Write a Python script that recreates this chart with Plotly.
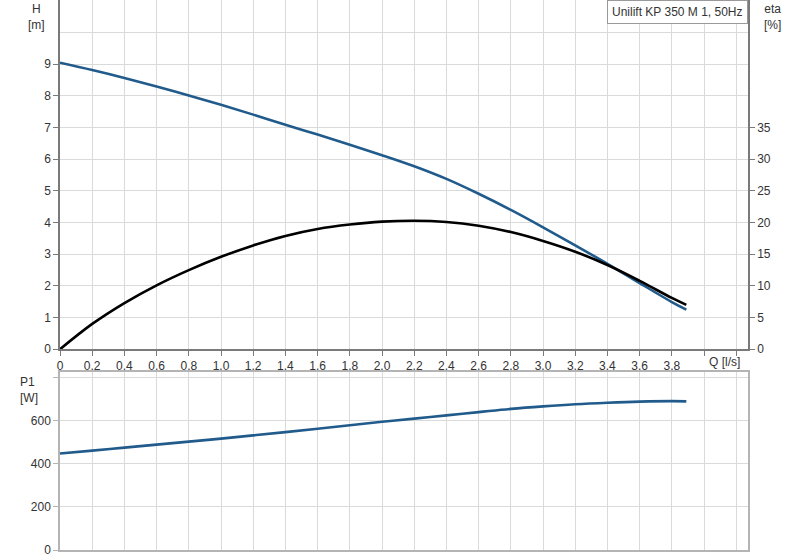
import plotly.graph_objects as go

# Kennlinien Unilift KP 350 M 1, 50Hz
q = [0, 0.2, 0.4, 0.6, 0.8, 1.0, 1.2, 1.4, 1.6, 1.8, 2.0,
     2.2, 2.4, 2.6, 2.8, 3.0, 3.2, 3.4, 3.6, 3.8, 3.89]
h = [9.05, 8.82, 8.57, 8.30, 8.01, 7.72, 7.41, 7.09, 6.78, 6.46, 6.13,
     5.78, 5.38, 4.91, 4.40, 3.85, 3.28, 2.70, 2.09, 1.49, 1.25]
eta = [0, 4.0, 7.3, 10.1, 12.5, 14.6, 16.4, 17.9, 19.0, 19.7, 20.15,
       20.3, 20.1, 19.5, 18.5, 17.1, 15.4, 13.3, 10.8, 8.1, 7.0]
p1 = [449, 462, 476, 490, 504, 518, 533, 548, 564, 580, 596,
      611, 626, 641, 656, 668, 678, 685, 690, 692, 691]

q_ticks = [0, 0.2, 0.4, 0.6, 0.8, 1.0, 1.2, 1.4, 1.6, 1.8, 2.0,
           2.2, 2.4, 2.6, 2.8, 3.0, 3.2, 3.4, 3.6, 3.8, 4.0, 4.2]
q_labels = ["0", "0,2", "0,4", "0,6", "0,8", "1,0", "1,2", "1,4", "1,6", "1,8", "2,0",
            "2,2", "2,4", "2,6", "2,8", "3,0", "3,2", "3,4", "3,6", "3,8", "", ""]
h_ticks = [0, 1, 2, 3, 4, 5, 6, 7, 8, 9]
eta_ticks = [0, 5, 10, 15, 20, 25, 30, 35]
p1_ticks = [0, 200, 400, 600, 800]
p1_labels = ["0", "200", "400", "600", ""]

BLUE = "#215b8c"
GRID = "#dadada"
AXIS = "#7a7a7a"
FRAME = "#b4b4b4"
TXT = "#333333"
FONT = "Liberation Sans, Arial, sans-serif"

h_top = 11.03
fig = go.Figure()

fig.add_trace(go.Scatter(x=q, y=h, mode="lines", line=dict(color=BLUE, width=2.6, shape="spline"),
                         xaxis="x", yaxis="y", showlegend=False))
fig.add_trace(go.Scatter(x=q, y=eta, mode="lines", line=dict(color="#000000", width=2.6, shape="spline"),
                         xaxis="x", yaxis="y2", showlegend=False))
fig.add_trace(go.Scatter(x=q, y=p1, mode="lines", line=dict(color=BLUE, width=2.6, shape="spline"),
                         xaxis="x2", yaxis="y3", showlegend=False))

fig.update_layout(
    width=800, height=560,
    margin=dict(l=60, r=52, t=0, b=10),
    paper_bgcolor="white", plot_bgcolor="white",
    font=dict(family=FONT, size=12, color=TXT),
    xaxis=dict(domain=[0, 1], anchor="y", range=[0, 4.273], tickmode="array",
               tickvals=q_ticks, ticktext=q_labels, ticks="outside", ticklen=5,
               tickcolor=AXIS, showgrid=True, gridcolor=GRID, gridwidth=1,
               showline=True, linecolor=AXIS, linewidth=1.5, zeroline=False),
    yaxis=dict(domain=[0.365, 1], anchor="x", range=[0, h_top], tickmode="array",
               tickvals=h_ticks, ticks="outside", ticklen=5, tickcolor=AXIS,
               showgrid=True, gridcolor=GRID, gridwidth=1,
               minor=dict(tickvals=[10], showgrid=True, gridcolor=GRID, ticks=""),
               showline=True, linecolor=AXIS, linewidth=1.5, zeroline=False),
    yaxis2=dict(overlaying="y", side="right", anchor="x", range=[0, h_top * 5],
                tickmode="array", tickvals=eta_ticks, ticks="outside", ticklen=5,
                tickcolor=AXIS, showgrid=False, showline=True, linecolor=AXIS,
                linewidth=1.5, zeroline=False),
    xaxis2=dict(domain=[0, 1], anchor="y3", matches="x", tickmode="array",
                tickvals=q_ticks, showticklabels=False, ticks="",
                showgrid=True, gridcolor=GRID, gridwidth=1,
                showline=True, linecolor=FRAME, linewidth=1.5, mirror=True, zeroline=False),
    yaxis3=dict(domain=[0, 0.323], anchor="x2", range=[0, 826], tickmode="array",
                tickvals=p1_ticks, ticktext=p1_labels, ticks="outside", ticklen=5,
                tickcolor=FRAME, showgrid=True, gridcolor=GRID, gridwidth=1,
                showline=True, linecolor=FRAME, linewidth=1.5, mirror=True, zeroline=False),
)

fig.add_annotation(text="H<br>[m]", xref="paper", yref="paper", x=-0.034, y=1.0,
                   xanchor="center", yanchor="top", showarrow=False, align="center")
fig.add_annotation(text="eta<br>[%]", xref="paper", yref="paper", x=1.036, y=1.0,
                   xanchor="center", yanchor="top", showarrow=False, align="center")
fig.add_annotation(text="P1<br>[W]", xref="paper", yref="paper", x=-0.045, y=0.322,
                   xanchor="center", yanchor="top", showarrow=False, align="left")
fig.add_annotation(text="Q [l/s]", xref="x", yref="paper", x=4.13, y=0.342,
                   xanchor="center", yanchor="middle", showarrow=False)
fig.add_annotation(text="Unilift KP 350 M 1, 50Hz", xref="paper", yref="paper", x=1.0, y=1.0,
                   xanchor="right", yanchor="top", showarrow=False,
                   bordercolor="#999999", borderwidth=1, borderpad=4, bgcolor="white")

# Seitenrand entfernen, damit das Diagramm genau ins Fenster passt
fig.write_html("out.html", config={"displayModeBar": False},
               post_script="document.body.style.margin='0px';")
